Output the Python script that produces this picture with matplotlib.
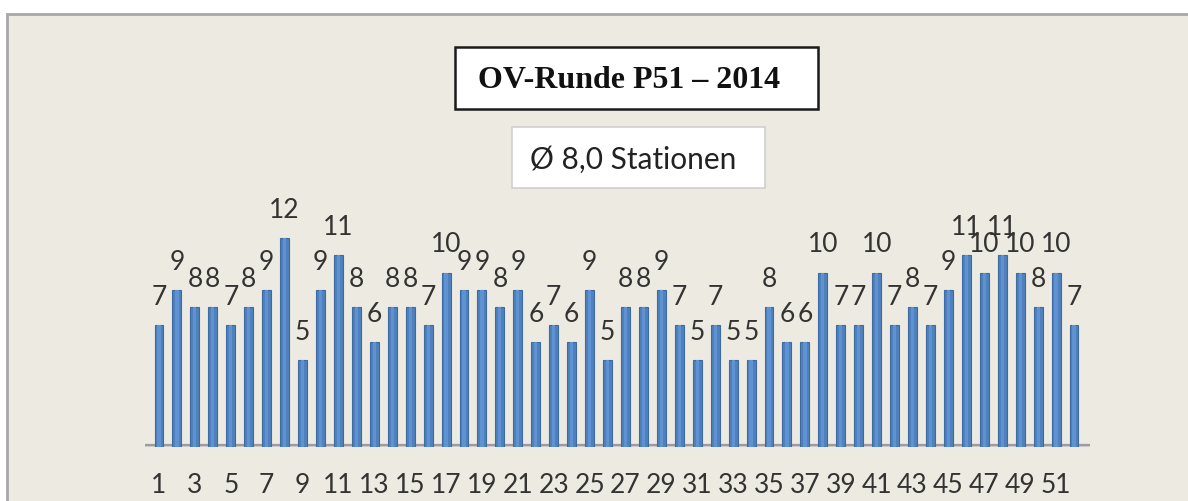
import numpy as np
import matplotlib
matplotlib.use('Agg')
import matplotlib.pyplot as plt
from matplotlib.patches import Rectangle

# stations per round, rounds 1..52
rounds = list(range(1, 53))
stations = [7, 9, 8, 8, 7, 8, 9, 12, 5, 9,
            11, 8, 6, 8, 8, 7, 10, 9, 9, 8,
            9, 6, 7, 6, 9, 5, 8, 8, 9, 7,
            5, 7, 5, 5, 8, 6, 6, 10, 7, 7,
            10, 7, 8, 7, 9, 11, 10, 11, 10, 8,
            10, 7]
tick_rounds = list(range(1, 53, 2))

title = 'OV-Runde P51 \u2013 2014'
subtitle = '\u00d8 8,0 Stationen'

W, H = 1188, 501
BG = '#EDEBE1'
BAR = '#4F81BD'
TXT = '#333333'


def px(x, y):
    # pixel coords from top-left -> figure fraction
    return x / W, (H - y) / H


fig = plt.figure(figsize=(W / 100, H / 100), dpi=100, facecolor='white')

# chart area frame
fig.patches.append(Rectangle((7 / W, -0.05), 1.1, (H - 14) / H + 0.05,
                             transform=fig.transFigure, facecolor=BG,
                             edgecolor='#A8A8A8', linewidth=2, zorder=-5))

# axes placed so that baseline sits at y=447 px and x=1 at 159 px
left, right = 145, 1090
base, top = 447, 60
ax = fig.add_axes([left / W, (H - base) / H, (right - left) / W, (base - top) / H])
ax.set_zorder(1)
ax.patch.set_alpha(0)
unit = 17.45
ax.set_xlim(1 - 14 / 17.95, 52 + 16 / 17.95)
ax.set_ylim(0, (base - top) / unit)
for s in ax.spines.values():
    s.set_visible(False)
ax.set_yticks([])

# floor of the 3-D plot
ax.axhline(0, color='#9C9C9C', linewidth=4.5, zorder=1)
ax.axhline(0, color='#C9C9C9', linewidth=1.5, zorder=1)

ax.bar(rounds, stations, width=0.5, color=BAR, edgecolor='#3D6AA3',
       linewidth=0.8, zorder=2)
ax.bar(rounds, stations, width=0.18, color='#5E92D2', linewidth=0, zorder=3)

for r, v in zip(rounds, stations):
    ax.annotate(str(v), (r, v), xytext=(0, 20), textcoords='offset pixels',
                ha='center', va='baseline', fontsize=19, family='Lato',
                color=TXT, zorder=4)

ax.set_xticks(tick_rounds)
ax.set_xticklabels([str(t) for t in tick_rounds], fontsize=19,
                   family='Lato', color=TXT)
ax.tick_params(axis='x', length=0, pad=19)

# title boxes
x0, y0 = px(455, 109)
fig.patches.append(Rectangle((x0, y0), 363 / W, 62 / H, transform=fig.transFigure,
                             facecolor='white', edgecolor='#1A1A1A', linewidth=1.8, zorder=5))
fig.text(*px(629, 88), title, ha='center', va='baseline', fontsize=23,
         family='Liberation Serif', fontweight='bold', color='#111111', zorder=6)

x0, y0 = px(512, 188)
fig.patches.append(Rectangle((x0, y0), 253 / W, 61 / H, transform=fig.transFigure,
                             facecolor='white', edgecolor='#CFCFCF', linewidth=1.2, zorder=5))
fig.text(*px(633, 169), subtitle, ha='center', va='baseline', fontsize=21.5,
         family='Lato', color='#222222', zorder=6)

plt.savefig('out.png', dpi=100, facecolor=fig.get_facecolor())
